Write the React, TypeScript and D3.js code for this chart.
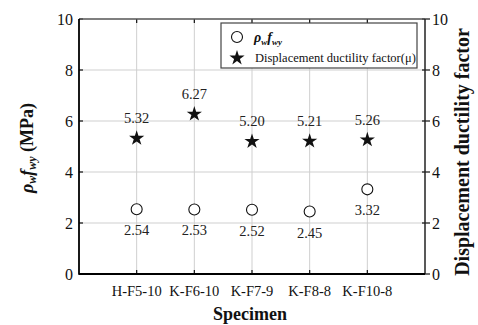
import * as d3 from "d3";

const specimens = ["H-F5-10", "K-F6-10", "K-F7-9", "K-F8-8", "K-F10-8"];
const rhoFwy = [2.54, 2.53, 2.52, 2.45, 3.32];
const ductility = [5.32, 6.27, 5.2, 5.21, 5.26];
const yTicks = [0, 2, 4, 6, 8, 10];

const width = 478;
const height = 325;
const marginLeft = 79;
const marginRight = 53;
const marginTop = 19;
const marginBottom = 51;
const font = "Liberation Serif, Times New Roman, serif";

export default function App() {
  const x = d3.scaleLinear([0, specimens.length + 1], [marginLeft, width - marginRight]);
  const y = d3.scaleLinear([0, 10], [height - marginBottom, marginTop]);
  const star = d3.symbol(d3.symbolStar, 72)()!;
  const x0 = x.range()[0], x1 = x.range()[1];
  const y0 = y.range()[0], y1 = y.range()[1];

  return (
    <svg width={width} height={height} style={{position: "absolute", left: 0, top: 0, background: "white", fontFamily: font}}>
      {/* grid */}
      <g stroke="#cfcfcf" strokeWidth="1">
        {yTicks.slice(1, -1).map(t => <line key={t} x1={x0} x2={x1} y1={y(t)} y2={y(t)}/>)}
        {specimens.map((s, i) => <line key={s} x1={x(i + 1)} x2={x(i + 1)} y1={y0} y2={y1}/>)}
      </g>
      {/* ticks */}
      <g stroke="#111" strokeWidth="1.2">
        {yTicks.map(t => <line key={"l" + t} x1={x0} x2={x0 + 4} y1={y(t)} y2={y(t)}/>)}
        {yTicks.map(t => <line key={"r" + t} x1={x1 - 3} x2={x1 + 5} y1={y(t)} y2={y(t)}/>)}
        {specimens.map((s, i) => <line key={"b" + s} x1={x(i + 1)} x2={x(i + 1)} y1={y0} y2={y0 - 4}/>)}
        {specimens.map((s, i) => <line key={"t" + s} x1={x(i + 1)} x2={x(i + 1)} y1={y1} y2={y1 + 4}/>)}
      </g>
      {/* frame */}
      <line x1={x0} x2={x1} y1={y1} y2={y1} stroke="#555" strokeWidth="1.5"/>
      <line x1={x1} x2={x1} y1={y1} y2={y0} stroke="#222" strokeWidth="1.5"/>
      <line x1={x0} x2={x0} y1={y1} y2={y0 + 0.75} stroke="#000" strokeWidth="1.8"/>
      <line x1={x0} x2={x1} y1={y0} y2={y0} stroke="#000" strokeWidth="1.8"/>

      {/* tick labels */}
      <g fontSize="16" fill="#111" fontFamily={font}>
        {yTicks.map(t => <text key={"tl" + t} x={x0 - 6} y={y(t)} dy="0.35em" textAnchor="end">{t}</text>)}
        {yTicks.map(t => <text key={"tr" + t} x={x1 + 7} y={y(t)} dy="0.35em">{t}</text>)}
      </g>
      <g fontSize="14.5" fill="#111" textAnchor="middle" fontFamily={font}>
        {specimens.map((s, i) => <text key={s} x={x(i + 1)} y={296}>{s}</text>)}
      </g>

      {/* points */}
      {rhoFwy.map((v, i) => (
        <g key={"c" + i} fontFamily={font}>
          <circle cx={x(i + 1)} cy={y(v)} r="5.5" fill="white" stroke="#111" strokeWidth="1.1"/>
          <text x={x(i + 1)} y={y(v) + 26} textAnchor="middle" fontSize="14.5" fill="#222">{v.toFixed(2)}</text>
        </g>
      ))}
      {ductility.map((v, i) => (
        <g key={"s" + i} fontFamily={font}>
          <path d={star} transform={`translate(${x(i + 1)},${y(v)})`} fill="#111"/>
          <text x={x(i + 1)} y={y(v) - 15} textAnchor="middle" fontSize="14.5" fill="#222">{v.toFixed(2)}</text>
        </g>
      ))}

      {/* legend */}
      <g fontFamily={font}>
        <rect x={221} y={23} width={196} height={45} fill="white" stroke="#444" strokeWidth="1.2"/>
        <circle cx={237} cy={37} r="5.5" fill="white" stroke="#111" strokeWidth="1.1"/>
        <text x={254} y={42} fontSize="14" fontWeight="bold" fontStyle="italic" fill="#111">
          ρ<tspan fontSize="9" dy="3">w</tspan><tspan dy="-3">f</tspan><tspan fontSize="9" dy="3">wy</tspan>
        </text>
        <path d={star} transform="translate(237,58)" fill="#111"/>
        <text x={255} y={62} fontSize="12.5" fill="#111">Displacement ductility factor(μ)</text>
      </g>

      {/* axis titles */}
      <text transform="translate(33,148) rotate(-90)" textAnchor="middle" fontSize="18" fontWeight="bold" fill="#111" fontFamily={font}>
        <tspan fontStyle="italic">ρ</tspan><tspan fontStyle="italic" fontSize="12" dy="3">w</tspan><tspan fontStyle="italic" dy="-3">f</tspan><tspan fontStyle="italic" fontSize="12" dy="3">wy</tspan><tspan dy="-3"> (MPa)</tspan>
      </text>
      <text transform="translate(469,152) rotate(-90)" textAnchor="middle" fontSize="20" fontWeight="bold" fill="#111" fontFamily={font}>Displacement ductility factor</text>
      <text x={250} y={320} textAnchor="middle" fontSize="18" fontWeight="bold" fill="#111" fontFamily={font}>Specimen</text>
    </svg>
  );
}
